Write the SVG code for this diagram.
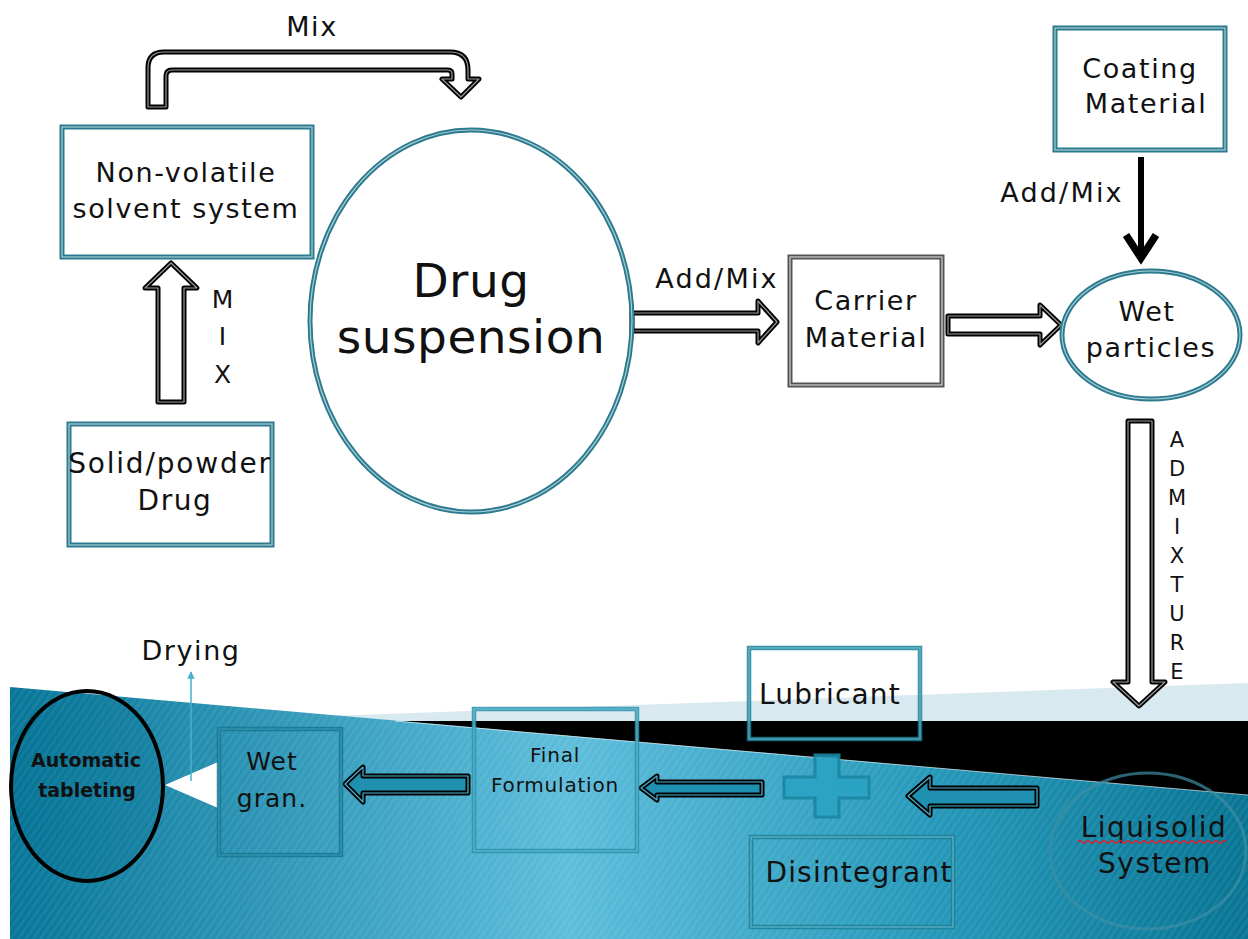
<svg xmlns="http://www.w3.org/2000/svg" width="1248" height="939" viewBox="0 0 1248 939">
<defs>
<linearGradient id="bg" x1="10" y1="0" x2="1248" y2="0" gradientUnits="userSpaceOnUse">
<stop offset="0" stop-color="#067597"/>
<stop offset="0.45" stop-color="#5dbddb"/>
<stop offset="0.75" stop-color="#2497b8"/>
<stop offset="1" stop-color="#077493"/>
</linearGradient>
<pattern id="stripes" width="6" height="6" patternUnits="userSpaceOnUse" patternTransform="rotate(35)">
<rect width="3" height="6" fill="#ffffff" opacity="0.06"/>
</pattern>
<marker id="thinHead" viewBox="0 0 10 10" refX="9" refY="5" markerWidth="5" markerHeight="5" orient="auto">
<path d="M0,0 L10,5 L0,10 Z" fill="#46b0cc"/>
</marker>
<style>
text{font-family:"DejaVu Sans","Liberation Sans",sans-serif;fill:#111;text-anchor:middle}
.t26{font-size:27px;letter-spacing:1.6px}
.t24{font-size:25px;letter-spacing:1px}
.box{fill:none;stroke:#2b7a8e;stroke-width:5}
.boxIn{fill:none;stroke:#a8cdd7;stroke-width:1.2}
.gbox{fill:none;stroke:#555;stroke-width:5}
.gboxIn{fill:none;stroke:#d0d0d0;stroke-width:1.2}
.lbox{fill:none;stroke:#1f8098;stroke-width:4.5;opacity:0.85}
.lboxIn{fill:none;stroke:#6cc0d6;stroke-width:1.2;opacity:0.8}
.harr{fill:#fff;stroke:#000;stroke-width:5;stroke-linejoin:round}
.harrIn{fill:none;stroke:#9a9a9a;stroke-width:1.2;stroke-linejoin:round}
.barr{fill:#1f90b0;stroke:#000;stroke-width:5;stroke-linejoin:round}
.barrIn{fill:none;stroke:#4fb3cf;stroke-width:1.2;stroke-linejoin:round}
</style>
</defs>

<g id="background">
<rect x="0" y="0" width="1248" height="939" fill="#ffffff"/>
<polygon points="190,721 1248,683 1248,721" fill="#d9e9f0"/>
<polygon points="380,721 1248,721 1248,800 380,800" fill="#000"/>
<polygon points="10,687 1248,795 1248,939 10,939" fill="url(#bg)"/>
<polygon points="10,687 1248,795 1248,939 10,939" fill="url(#stripes)"/>
<line x1="395" y1="721" x2="1248" y2="795" stroke="#ffffff" stroke-opacity="0.6" stroke-width="1"/>
<polygon points="165,785 218,762 218,808" fill="#ffffff"/>
</g>

<g id="connectors">
<g id="arrow-mix-top">
<path class="harr" d="M148,107 L148,68 Q148,52 164,52 L450,52 Q468,52 468,70 L468,79 L479,79 L461,97 L442,79 L452,79 L452,74 Q452,70 448,70 L172,70 Q166,70 166,76 L166,107 Z"/>
<path class="harrIn" d="M148,107 L148,68 Q148,52 164,52 L450,52 Q468,52 468,70 L468,79 L479,79 L461,97 L442,79 L452,79 L452,74 Q452,70 448,70 L172,70 Q166,70 166,76 L166,107 Z"/>
</g>
<g id="arrow-mix-up">
<path class="harr" d="M158,402 L158,288 L145,288 L171,263 L197,288 L184,288 L184,402 Z"/>
<path class="harrIn" d="M158,402 L158,288 L145,288 L171,263 L197,288 L184,288 L184,402 Z"/>
</g>
<g id="arrow-addmix">
<path class="harr" d="M632,313 L758,313 L758,301 L777,322 L758,343 L758,331 L632,331 Z"/>
<path class="harrIn" d="M632,313 L758,313 L758,301 L777,322 L758,343 L758,331 L632,331 Z"/>
</g>
<g id="arrow-carrier-wet">
<path class="harr" d="M948,316 L1040,316 L1040,305 L1061,325 L1040,345 L1040,334 L948,334 Z"/>
<path class="harrIn" d="M948,316 L1040,316 L1040,305 L1061,325 L1040,345 L1040,334 L948,334 Z"/>
</g>
<g id="arrow-coating">
<line x1="1141" y1="157" x2="1141" y2="252" stroke="#000" stroke-width="6"/>
<polyline points="1126,235 1141,258 1156,235" fill="none" stroke="#000" stroke-width="7.5" stroke-linejoin="miter"/>
</g>
<g id="arrow-admixture">
<path class="harr" d="M1128,421 L1152,421 L1152,682 L1165,682 L1139,706 L1113,682 L1128,682 Z"/>
<path class="harrIn" d="M1128,421 L1152,421 L1152,682 L1165,682 L1139,706 L1113,682 L1128,682 Z"/>
</g>
<g id="arrow-liq-plus">
<path class="barr" d="M1037,788 L930,788 L930,777 L908,796 L930,815 L930,806 L1037,806 Z"/>
<path class="barrIn" d="M1037,788 L930,788 L930,777 L908,796 L930,815 L930,806 L1037,806 Z"/>
</g>
<g id="arrow-plus-final">
<path class="barr" d="M762,782 L657,782 L657,776 L641,788 L657,800 L657,795 L762,795 Z"/>
<path class="barrIn" d="M762,782 L657,782 L657,776 L641,788 L657,800 L657,795 L762,795 Z"/>
</g>
<g id="arrow-final-wet">
<path class="barr" d="M468,776 L363,776 L363,767 L345,784 L363,802 L363,793 L468,793 Z"/>
<path class="barrIn" d="M468,776 L363,776 L363,767 L345,784 L363,802 L363,793 L468,793 Z"/>
</g>
<g id="arrow-drying">
<line x1="191" y1="781" x2="191" y2="672" stroke="#46b0cc" stroke-width="1.5" marker-end="url(#thinHead)"/>
</g>
</g>

<g id="labels">
<text class="t26" x="312" y="36">Mix</text>
<text class="t24" x="223" y="308">M</text>
<text class="t24" x="223" y="345">I</text>
<text class="t24" x="223" y="383">X</text>
<text class="t26" x="717" y="288" style="letter-spacing:2.2px">Add/Mix</text>
<text class="t26" x="1062" y="202" style="letter-spacing:2.2px">Add/Mix</text>
<g style="font-size:21px">
<text x="1177" y="447">A</text>
<text x="1177" y="476">D</text>
<text x="1177" y="505">M</text>
<text x="1177" y="534">I</text>
<text x="1177" y="563">X</text>
<text x="1177" y="592">T</text>
<text x="1177" y="621">U</text>
<text x="1177" y="650">R</text>
<text x="1177" y="679">E</text>
</g>
<text class="t26" x="191" y="660">Drying</text>
</g>

<g id="node-nonvolatile">
<rect class="box" x="62" y="127" width="250" height="130"/>
<rect class="boxIn" x="62" y="127" width="250" height="130"/>
<text class="t26" x="186" y="182">Non-volatile</text>
<text class="t26" x="186" y="218">solvent system</text>
</g>

<g id="node-solid">
<rect class="box" x="69" y="424" width="203" height="121"/>
<rect class="boxIn" x="69" y="424" width="203" height="121"/>
<text class="t26" x="170" y="473" style="font-size:28px;letter-spacing:1.8px">Solid/powder</text>
<text class="t26" x="175" y="510" style="font-size:28px">Drug</text>
</g>

<g id="node-drug-suspension">
<ellipse class="box" cx="471" cy="321" rx="161" ry="191"/>
<ellipse class="boxIn" cx="471" cy="321" rx="161" ry="191"/>
<text x="471" y="297" style="font-size:47px;letter-spacing:0.5px">Drug</text>
<text x="471" y="353" style="font-size:47px;letter-spacing:0.5px">suspension</text>
</g>

<g id="node-carrier">
<rect class="gbox" x="790" y="257" width="152" height="128"/>
<rect class="gboxIn" x="790" y="257" width="152" height="128"/>
<text class="t26" x="866" y="310">Carrier</text>
<text class="t26" x="866" y="347">Material</text>
</g>

<g id="node-coating">
<rect class="box" x="1055" y="28" width="170" height="122"/>
<rect class="boxIn" x="1055" y="28" width="170" height="122"/>
<text class="t26" x="1140" y="78">Coating</text>
<text class="t26" x="1146" y="113">Material</text>
</g>

<g id="node-wet-particles">
<ellipse class="box" cx="1151" cy="335" rx="89" ry="64"/>
<ellipse class="boxIn" cx="1151" cy="335" rx="89" ry="64"/>
<text class="t26" x="1147" y="321">Wet</text>
<text class="t26" x="1151" y="357">particles</text>
</g>

<g id="node-liquisolid">
<ellipse cx="1148" cy="851" rx="98" ry="78" fill="none" stroke="#3d8ea4" stroke-width="3" opacity="0.7"/>
<text class="t26" x="1154" y="837" style="font-size:28px;letter-spacing:1.5px">Liquisolid</text>
<path d="M1078,842 q2,-2.5 4,0 t4,0 t4,0 t4,0 t4,0 t4,0 t4,0 t4,0 t4,0 t4,0 t4,0 t4,0 t4,0 t4,0 t4,0 t4,0 t4,0 t4,0 t4,0 t4,0 t4,0 t4,0 t4,0 t4,0 t4,0 t4,0 t4,0 t4,0 t4,0 t4,0 t4,0 t4,0 t4,0 t4,0 t4,0 t4,0 t4,0" fill="none" stroke="#e0202a" stroke-width="1.3"/>
<text class="t26" x="1155" y="873" style="font-size:28px">System</text>
</g>

<g id="node-plus">
<path d="M815,755 L839,755 L839,777 L869,777 L869,798 L839,798 L839,817 L815,817 L815,798 L784,798 L784,777 L815,777 Z" fill="#2aa3c3" stroke="#1a86a4" stroke-width="3" opacity="0.9"/>
</g>

<g id="node-lubricant">
<rect class="lbox" x="749" y="648" width="171" height="91"/>
<rect class="lboxIn" x="749" y="648" width="171" height="91"/>
<text class="t26" x="830" y="704" style="font-size:28px;letter-spacing:1.2px">Lubricant</text>
</g>

<g id="node-disintegrant">
<rect class="lbox" x="751" y="837" width="202" height="90"/>
<rect class="lboxIn" x="751" y="837" width="202" height="90"/>
<text class="t26" x="859" y="882" style="font-size:28px;letter-spacing:1.2px">Disintegrant</text>
</g>

<g id="node-final">
<rect class="lbox" x="474" y="709" width="163" height="142" style="stroke:#2a93ad"/>
<rect class="lboxIn" x="474" y="709" width="163" height="142"/>
<text x="555" y="762" style="font-size:20px;letter-spacing:0.8px">Final</text>
<text x="555" y="792" style="font-size:20px;letter-spacing:0.8px">Formulation</text>
</g>

<g id="node-wet-gran">
<rect class="lbox" x="219" y="729" width="122" height="126" style="stroke:#1a7590"/>
<rect class="lboxIn" x="219" y="729" width="122" height="126" style="stroke:#3aa0bc"/>
<text class="t24" x="272" y="770">Wet</text>
<text class="t24" x="272" y="807">gran.</text>
</g>

<g id="node-tableting">
<ellipse cx="87" cy="786" rx="76" ry="95" fill="#06708f" fill-opacity="0.2" stroke="#000" stroke-width="4"/>
<text x="86" y="767" style="font-size:19px;font-weight:bold">Automatic</text>
<text x="87" y="797" style="font-size:19px;font-weight:bold">tableting</text>
</g>
</svg>
